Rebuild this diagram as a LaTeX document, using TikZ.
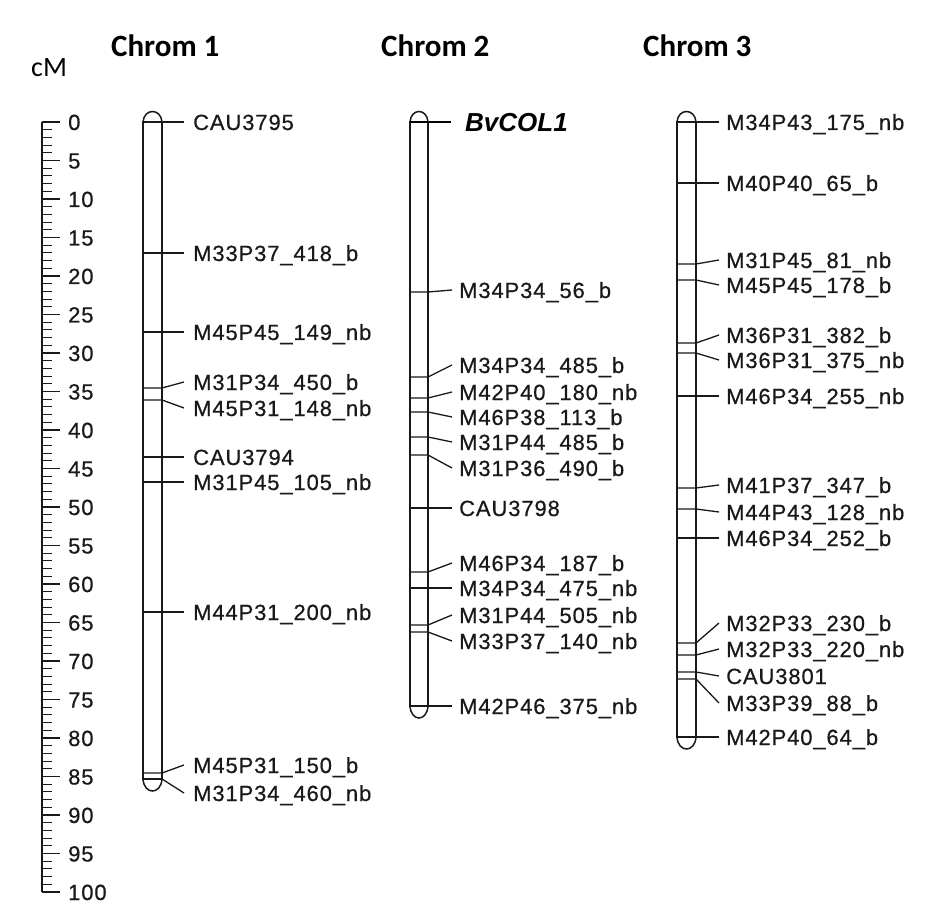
\documentclass[tikz,border=0pt]{standalone}
\usepackage{fontspec}
\setmainfont{Liberation Sans}[LetterSpace=4, FakeBold=0.6]
\newfontfamily\boldital{Liberation Sans Bold Italic}
\newfontfamily\headfont{Carlito}
\begin{document}
\begin{tikzpicture}[x=1pt,y=-1pt,
  chromline/.style={line width=1.5pt, black!90},
  mtick/.style={line width=1.3pt, black!90},
  lab/.style={anchor=west, inner sep=0pt, font=\fontsize{22}{22}\selectfont, text height=16pt, text depth=0pt, text=black!90},
  rlab/.style={anchor=west, inner sep=0pt, font=\fontsize{22}{22}\selectfont, text height=16pt, text depth=0pt, text=black!90},
  head/.style={anchor=west, inner sep=0pt, font=\headfont\bfseries\fontsize{31}{31}\selectfont},
]
\useasboundingbox (0,0) rectangle (940,917);
% headings
\node[head] (h1) at (111,46) {Chrom 1};
\node[head] (h2) at (381,46) {Chrom 2};
\node[head] (h3) at (643,46) {Chrom 3};
\node[anchor=west, inner sep=0pt, font=\headfont\fontsize{28}{28}\selectfont] (cm) at (31,68) {cM};
% ruler
\coordinate (rtop) at (42,122);
\coordinate (rbot) at (42,892);
\draw[mtick] (rtop) -- (rbot);
\foreach \i in {0,...,100}{
  \pgfmathsetmacro{\yy}{122+7.7*\i}
  \pgfmathtruncatemacro{\mm}{mod(\i,5)}
  \ifnum\mm=0
    \draw[mtick] (42,\yy) -- (60,\yy);
    \node[rlab] (r\i) at (68,\yy) {\i};
  \else
    \draw[line width=1.1pt, black!90] (42,\yy) -- (52,\yy);
  \fi
}
% ---------- chromosome 1 ----------
\draw[chromline] (143,122) rectangle (162,779);
\draw[chromline] (143,122) .. controls (144,108) and (161,108) .. (162,122);
\draw[chromline] (143,779) .. controls (144,795) and (161,795) .. (162,779);
\foreach \ty/\ly/\txt [count=\i] in {
  122/122/CAU3795, 253/253/M33P37\_418\_b, 332/332/M45P45\_149\_nb,
  388/382/M31P34\_450\_b, 400/408/M45P31\_148\_nb, 457/457/CAU3794,
  482/482/M31P45\_105\_nb, 612/612/M44P31\_200\_nb,
  773/765/M45P31\_150\_b, 779/793/M31P34\_460\_nb}{
  \coordinate (a\i) at (162,\ty);
  \node[lab] (al\i) at (193,\ly) {\txt};
  \draw[mtick] (143,\ty) -- (a\i) -- ([xshift=-9pt]al\i.west);
}
% ---------- chromosome 2 ----------
\draw[chromline] (410,122) rectangle (428,706);
\draw[chromline] (410,122) .. controls (411,108) and (427,108) .. (428,122);
\draw[chromline] (410,706) .. controls (411,722) and (427,722) .. (428,706);
\coordinate (b0) at (428,122);
\node[anchor=west, inner sep=0pt, font=\boldital\fontsize{26}{26}\selectfont, text height=19pt, text depth=0pt] (bl0) at (465,122) {BvCOL1};
\draw[line width=2.4pt] (410,122) -- (b0) -- ([xshift=-14pt]bl0.west);
\foreach \ty/\ly/\txt [count=\i] in {
  292/290/M34P34\_56\_b, 377/365/M34P34\_485\_b, 398/392/M42P40\_180\_nb,
  412/417/M46P38\_113\_b, 437/442/M31P44\_485\_b, 455/468/M31P36\_490\_b,
  508/508/CAU3798, 572/563/M46P34\_187\_b, 588/588/M34P34\_475\_nb,
  625/615/M31P44\_505\_nb, 632/641/M33P37\_140\_nb, 706/706/M42P46\_375\_nb}{
  \coordinate (b\i) at (428,\ty);
  \node[lab] (bl\i) at (459,\ly) {\txt};
  \draw[mtick] (410,\ty) -- (b\i) -- ([xshift=-7pt]bl\i.west);
}
% ---------- chromosome 3 ----------
\draw[chromline] (677,122) rectangle (696,737);
\draw[chromline] (677,122) .. controls (678,108) and (695,108) .. (696,122);
\draw[chromline] (677,737) .. controls (678,753) and (695,753) .. (696,737);
\foreach \ty/\ly/\txt [count=\i] in {
  122/122/M34P43\_175\_nb, 183/183/M40P40\_65\_b, 264/260/M31P45\_81\_nb,
  280/285/M45P45\_178\_b, 343/335/M36P31\_382\_b, 353/360/M36P31\_375\_nb,
  396/396/M46P34\_255\_nb, 488/485/M41P37\_347\_b, 509/512/M44P43\_128\_nb,
  538/538/M46P34\_252\_b, 643/623/M32P33\_230\_b, 655/649/M32P33\_220\_nb,
  672/676/CAU3801, 679/703/M33P39\_88\_b, 737/737/M42P40\_64\_b}{
  \coordinate (c\i) at (696,\ty);
  \node[lab] (cl\i) at (726,\ly) {\txt};
  \draw[mtick] (677,\ty) -- (c\i) -- ([xshift=-7pt]cl\i.west);
}
\end{tikzpicture}
\end{document}
